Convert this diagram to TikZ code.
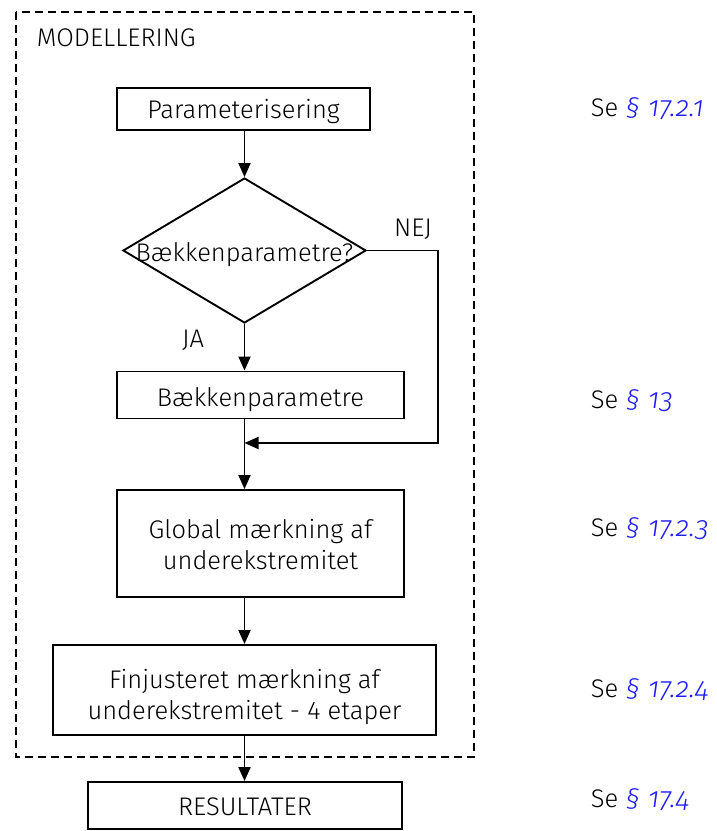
\documentclass[tikz,border=0pt]{standalone}
\usepackage{fontspec}
\setmainfont{Fira Sans Light}
\newfontfamily\reffont{Fira Sans Light}[Numbers=OldStyle]
\usetikzlibrary{arrows.meta,shapes.geometric}
\definecolor{refblue}{RGB}{30,30,245}
\newcommand{\seeref}[1]{Se {\reffont\itshape\fontsize{28}{31}\selectfont\color{refblue}\S{} #1}}

\begin{document}
\begin{tikzpicture}[x=1pt,y=-1pt,
  font=\fontsize{25.5}{31}\selectfont,
  every path/.style={line width=1.9pt},
  stepbox/.style={draw, rectangle, inner sep=0pt},
  steptext/.style={inner sep=0pt, align=center},
  decision/.style={draw, diamond, inner sep=0pt},
  flow/.style={-{Triangle[length=14pt,width=12pt]}},
  refnote/.style={anchor=west, inner sep=0pt},
  frame/.style={draw, dash pattern=on 8pt off 5pt}]
\useasboundingbox (0,0) rectangle (717,831);

% modelling group
\draw[frame] (16,12) rectangle (474,757);
\node[anchor=west, inner sep=0pt] (grp) at (36,38) {MODELLERING};

% step frames
\node[stepbox, minimum width=253, minimum height=42] (param) at (243.5,109) {};
\node[decision, minimum width=243, minimum height=145] (q) at (244.5,250.5) {};
\node[stepbox, minimum width=287, minimum height=47] (bk) at (260.5,395) {};
\node[stepbox, minimum width=287, minimum height=107] (gl) at (260.5,543.5) {};
\node[stepbox, minimum width=383, minimum height=90] (fin) at (244.5,690) {};
\node[stepbox, minimum width=314, minimum height=47] (res) at (245,805.5) {};

% step texts
\node[steptext, yshift=-3pt] (paramtext) at (param.center) {Parameterisering};
\node[steptext, yshift=-4pt] (qtext) at (q.center) {Bækkenparametre?};
\node[steptext, yshift=-5pt] (bktext) at (bk.center) {Bækkenparametre};
\node[steptext, yshift=-1pt] (gltext) at (gl.center) {Global mærkning af\\underekstremitet};
\node[steptext, yshift=-7pt] (fintext) at (fin.center) {Finjusteret mærkning af\\underekstremitet - 4 etaper};
\node[steptext, yshift=-1pt] (restext) at (res.center) {RESULTATER};

% branch labels
\node[inner sep=0pt] (nej) at (413,229) {NEJ};
\node[inner sep=0pt] (ja) at (193,340) {JA};

% connectors
\coordinate (nejturn) at (438,250.5);
\coordinate (nejlow) at (438,443);
\coordinate (merge) at (244.5,443);
\draw[flow] (param.south -| q.north) -- (q.north);
\draw[flow] (q.south) -- (q.south |- bk.north);
\draw[flow] (q.east) -- (nejturn) -- (nejlow) -- (merge);
\draw[flow] (q.south |- bk.south) -- (q.south |- gl.north);
\draw[flow] (q.south |- gl.south) -- (q.south |- fin.north);
\draw[flow] (q.south |- fin.south) -- (q.south |- res.north);

% references
\node[refnote] (r1) at (590,109) {\seeref{17.2.1}};
\node[refnote] (r2) at (590,401) {\seeref{13}};
\node[refnote] (r3) at (590,529) {\seeref{17.2.3}};
\node[refnote] (r4) at (590,690) {\seeref{17.2.4}};
\node[refnote] (r5) at (590,800) {\seeref{17.4}};
\end{tikzpicture}
\end{document}
